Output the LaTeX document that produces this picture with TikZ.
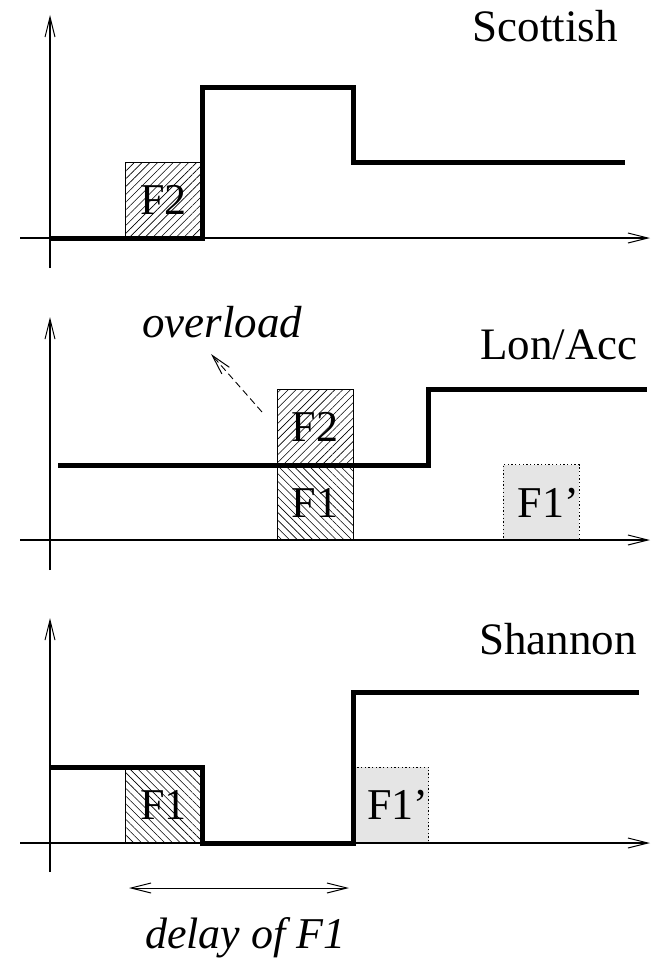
\documentclass[tikz,border=0pt]{standalone}
\usepackage{fontspec}
\setmainfont{Liberation Serif}
\usetikzlibrary{arrows.meta,patterns.meta}

\tikzset{
  barb/.tip={Straight Barb[length=20pt,width=10pt,line width=1pt]},
  axis/.style={line width=1.1pt, -barb},
  load/.style={line width=5pt, line join=miter},
  title/.style={inner sep=0pt, font=\fontsize{45}{54}\selectfont},
  slot/.style={draw, line width=0.9pt, minimum width=76pt, minimum height=76pt,
               inner sep=0pt, font=\fontsize{44}{44}\selectfont},
  hatchup/.style={slot, pattern={Lines[angle=45,distance=5.5pt,line width=0.6pt]},
                  pattern color=black},
  hatchdown/.style={slot, pattern={Lines[angle=-45,distance=5.5pt,line width=0.6pt]},
                    pattern color=black},
  moved/.style={slot, fill=black!10, line width=1pt, dash pattern=on 1.3pt off 2.4pt},
}

\begin{document}
\begin{tikzpicture}[x=1pt,y=-1pt]
\useasboundingbox (0,0) rectangle (651,958);

% ---- Scottish ----
\node[hatchup] (sF2) at (163.5,200) {F2};
\draw[axis] (50,268) -- (50,15);
\draw[axis] (20,238) -- (650,238);
\draw[load] (50,238) -- (202,238) -- (202,87) -- (353,87) -- (353,162) -- (625,162);
\node[title, anchor=base east] (scot) at (618,42) {Scottish};

% ---- Lon/Acc ----
\node[hatchup]   (lF2) at (315,427)   {F2};
\node[hatchdown] (lF1) at (315,502.5) {F1};
\node[moved]     (lF1p) at (541,502.5) {F1\rlap{’}};
\draw[axis] (50,570) -- (50,317);
\draw[axis] (20,540) -- (650,540);
\draw[load] (58,465) -- (428,465) -- (428,389) -- (647,389);
\node[title, anchor=base east] (lon) at (638,359) {Lon/Acc};
\node[title, font=\fontsize{45}{54}\selectfont\itshape, anchor=base west] (ovl) at (142,337) {overload};
\coordinate (ovs) at (262,412);
\coordinate (ovt) at (211,354);
\draw[line width=0.9pt, dash pattern=on 7pt off 4pt, -barb] (ovs) -- (ovt);

% ---- Shannon ----
\node[hatchdown] (hF1) at (163.5,805) {F1};
\node[moved]     (hF1p) at (390.5,805) {F1\rlap{’}};
\draw[axis] (50,872) -- (50,618);
\draw[axis] (20,843) -- (650,843);
\draw[load] (50,767) -- (202,767) -- (202,843) -- (353,843) -- (353,692) -- (639,692);
\node[title, anchor=base east] (shan) at (637,654) {Shannon};

% delay marker
\coordinate (dl) at (129,888);
\coordinate (dr) at (349,888);
\draw[line width=1pt, barb-barb] (dl) -- (dr);
\node[inner sep=0pt, font=\fontsize{44}{44}\selectfont\itshape, anchor=base west] (dly) at (145,948) {delay of F1};
\end{tikzpicture}
\end{document}
